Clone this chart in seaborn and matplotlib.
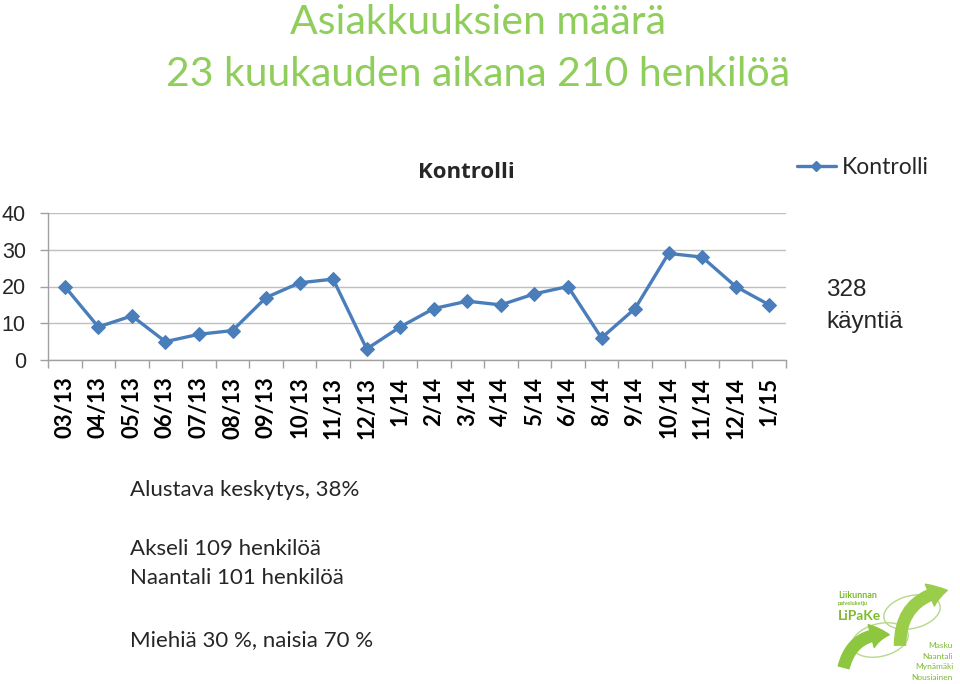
import matplotlib
matplotlib.use("Agg")
import matplotlib.pyplot as plt
import seaborn as sns
import pandas as pd
from matplotlib.patches import FancyArrowPatch, Ellipse
from matplotlib.lines import Line2D

months = ["03/13", "04/13", "05/13", "06/13", "07/13", "08/13", "09/13", "10/13",
          "11/13", "12/13", "1/14", "2/14", "3/14", "4/14", "5/14", "6/14",
          "8/14", "9/14", "10/14", "11/14", "12/14", "1/15"]
visits = [20, 9, 12, 5, 7, 8, 17, 21, 22, 3, 9, 14, 16, 15, 18, 20,
          6, 14, 29, 28, 20, 15]
y_ticks = [0, 10, 20, 30, 40]

title_lines = ["Asiakkuuksien määrä", "23 kuukauden aikana 210 henkilöä"]
series_name = "Kontrolli"
side_note = "328\nkäyntiä"
notes = ["Alustava keskytys, 38%", "Akseli 109 henkilöä",
         "Naantali 101 henkilöä", "Miehiä 30 %, naisia 70 %"]
logo_top = ["Liikunnan", "palveluketju", "LiPaKe"]
logo_towns = ["Masku", "Naantali", "Mynämäki", "Nousiainen"]

sns.set_theme(style="white")
plt.rcParams["font.family"] = ["Lato", "DejaVu Sans"]

W, H = 960, 684
fig = plt.figure(figsize=(W / 100, H / 100), dpi=100)
fig.patch.set_facecolor("white")

def fx(px):
    return px / W

def fy(py):
    return 1 - py / H

ax = fig.add_axes([fx(48), fy(360), fx(786) - fx(48), fy(213) - fy(360)])

df = pd.DataFrame({"pos": list(range(len(months))), "count": visits})
blue = "#4A7EBB"
sns.lineplot(data=df, x="pos", y="count", ax=ax, color=blue, linewidth=2.4,
             marker="D", markersize=7.5, markeredgecolor=blue, markerfacecolor=blue)

ax.set_xlim(-0.5, len(months) - 0.5)
ax.set_ylim(0, 40)
ax.set_yticks(y_ticks)
ax.set_yticklabels([str(v) for v in y_ticks], fontsize=15.5, family=["Liberation Sans", "DejaVu Sans"])
ax.set_xticks(range(len(months)))
ax.set_xticklabels(months, rotation=90, fontsize=16, fontweight="bold", va="top")
ax.set_xticks([i - 0.5 for i in range(len(months) + 1)], minor=True)
ax.tick_params(axis="x", which="major", length=0, pad=12, colors="black")
ax.tick_params(axis="x", which="minor", length=6, width=1, color="#A0A0A0", bottom=True)
ax.tick_params(axis="y", which="major", length=6, width=1, color="#A0A0A0", left=True, pad=10)
ax.set_xlabel("")
ax.set_ylabel("")
ax.yaxis.grid(True, color="#BFBFBF", linewidth=1)
ax.xaxis.grid(False)
for s in ["top", "right"]:
    ax.spines[s].set_visible(False)
for s in ["left", "bottom"]:
    ax.spines[s].set_color("#A0A0A0")
    ax.spines[s].set_linewidth(1)
ax.set_facecolor("white")

# chart title and legend
fig.text(fx(466), fy(172), series_name, ha="center", va="center", fontsize=16,
         fontweight="bold", family=["Open Sans", "DejaVu Sans"])
handle = Line2D([], [], color=blue, linewidth=2.4, marker="D", markersize=5.5)
fig.legend([handle], [series_name], loc="center left",
           bbox_to_anchor=(fx(797), fy(168)), frameon=False, fontsize=16.5,
           handlelength=1.7, handletextpad=0.25, borderpad=0, borderaxespad=0)

fig.text(fx(826), fy(290), side_note.split("\n")[0], ha="left", va="center", fontsize=17.5,
         family=["Liberation Sans", "DejaVu Sans"])
fig.text(fx(826), fy(322), side_note.split("\n")[1], ha="left", va="center", fontsize=17.5,
         family=["Liberation Sans", "DejaVu Sans"])

# main title
green = "#8FCE5B"
fig.text(fx(478), fy(22), title_lines[0], ha="center", va="center", fontsize=29.5, color=green)
fig.text(fx(478), fy(74), title_lines[1], ha="center", va="center", fontsize=29.5, color=green)

# notes
note_y = [490, 549, 578, 640]
for t, yy in zip(notes, note_y):
    fig.text(fx(130), fy(yy), t, ha="left", va="center", fontsize=16)

# logo
lg = "#7DBA2F"
fig.add_artist(Ellipse((fx(880), fy(640)), fx(60), fx(44), angle=30, transform=fig.transFigure,
                       fill=False, edgecolor="#B5D98A", linewidth=1))
fig.add_artist(Ellipse((fx(912), fy(612)), fx(60), fx(44), angle=30, transform=fig.transFigure,
                       fill=False, edgecolor="#B5D98A", linewidth=1))
style = "simple,head_width=1.7,head_length=1.3,tail_width=0.8"
arr1 = FancyArrowPatch((fx(843), fy(670)), (fx(892), fy(635)), transform=fig.transFigure,
                       connectionstyle="arc3,rad=-0.45", arrowstyle=style,
                       mutation_scale=10, color="#8DC63F")
arr2 = FancyArrowPatch((fx(900), fy(648)), (fx(950), fy(590)), transform=fig.transFigure,
                       connectionstyle="arc3,rad=-0.45", arrowstyle=style,
                       mutation_scale=10, color="#9ACD4A")
fig.add_artist(arr1)
fig.add_artist(arr2)
fig.text(fx(838), fy(596), logo_top[0], fontsize=6.5, fontweight="bold", color=lg, va="center")
fig.text(fx(838), fy(604), logo_top[1], fontsize=4, fontweight="bold", color=lg, va="center")
fig.text(fx(838), fy(616), logo_top[2], fontsize=10, fontweight="bold", color=lg, va="center")
for i, t in enumerate(logo_towns):
    fig.text(fx(953), fy(646 + i * 10.5), t, fontsize=6, color=lg, ha="right", va="center")

fig.savefig("out.png", dpi=100, facecolor="white")
